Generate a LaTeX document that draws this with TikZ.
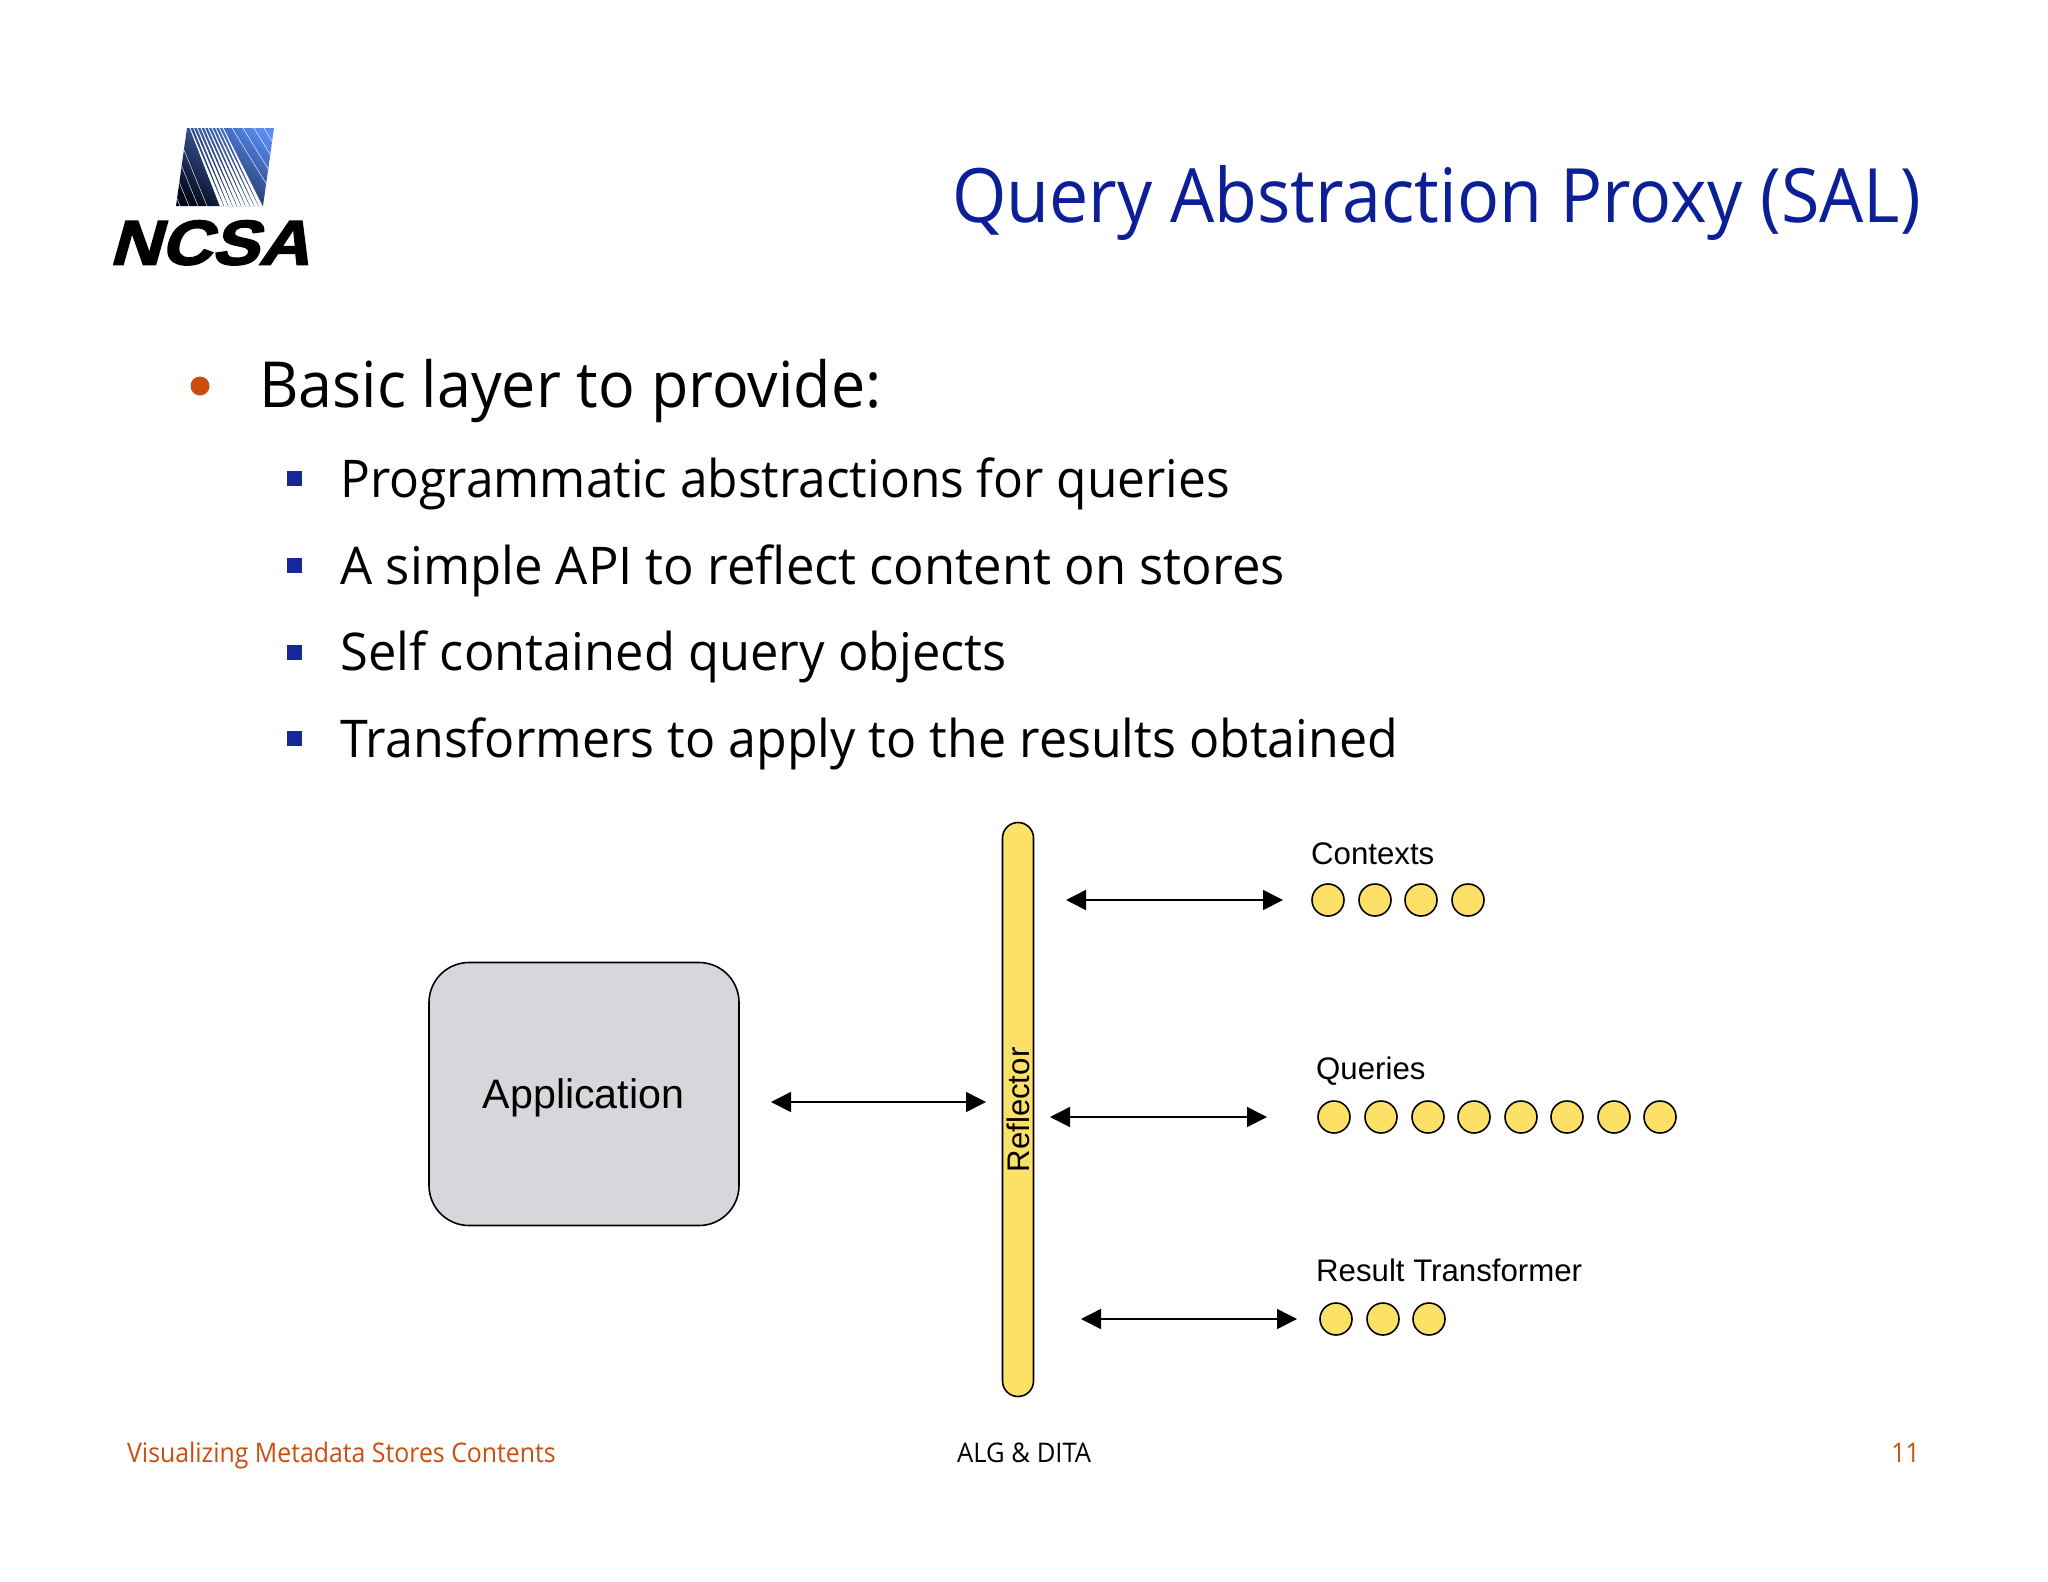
\documentclass[tikz,border=0pt]{standalone}
\usepackage{fontspec}
\setmainfont{Open Sans}
\newfontfamily\titlef[FakeStretch=0.92]{Open Sans}
\newfontfamily\bodyf[FakeStretch=0.96]{Open Sans}
\newfontfamily\arialf{Liberation Sans}
\newfontfamily\logof[FakeSlant=0.25,FakeBold=2.5]{Liberation Sans Bold}
\usetikzlibrary{arrows.meta}
\definecolor{titleblue}{HTML}{0C1F96}
\definecolor{bulletorange}{HTML}{CC4E0E}
\definecolor{squareblue}{HTML}{14289C}
\definecolor{padyellow}{HTML}{FDE068}
\definecolor{appgray}{HTML}{D8D6DA}
\definecolor{logoblue}{HTML}{5A8CF5}
\definecolor{logodark}{HTML}{05081A}
\newcommand{\fs}[1]{\fontsize{#1}{#1}\selectfont}
\tikzset{
  x=1pt,y=-1pt,
  txt/.style={inner sep=0pt,anchor=base west,text=black},
  ttl/.style={txt,anchor=base east,text=titleblue,font=\titlef\fs{75}},
  lvlone/.style={txt,font=\bodyf\fs{63.5}},
  lvltwo/.style={txt,font=\bodyf\fs{52}},
  foot/.style={txt,font=\titlef\fs{27}},
  lab/.style={txt,font=\arialf\fs{31.2}},
  sq/.style={draw=none,fill=squareblue,minimum size=15pt,inner sep=0pt},
  dot/.style={circle,draw=black,line width=1.6pt,fill=padyellow,minimum size=32pt,inner sep=0pt},
  dbl/.style={draw=black,line width=1.6pt,{Triangle[length=20pt,width=20pt]}-{Triangle[length=20pt,width=20pt]}},
}
\begin{document}
\begin{tikzpicture}
\useasboundingbox (0,0) rectangle (2048,1582);
\fill[white] (0,0) rectangle (2048,1582);
% logo
\begin{scope}
\clip (187,128) -- (274,128) -- (263,206) -- (176,206) -- cycle;
\shade[top color=logoblue,bottom color=logodark,shading angle=-40] (170,120) rectangle (280,210);
\foreach \i in {0,...,9}{
  \fill[white] ({190+3.67*\i-0.4},128) -- ({190+3.67*\i+0.4},128)
     -- ({221.7+4.33*\i+1.9},206) -- ({221.7+4.33*\i-1.9},206) -- cycle;
}
\foreach \b in {180,189,198,207}{
  \draw[white,line width=0.4pt] (\b,206) -- ({\b-32},128);
}
\foreach \t in {232,243,254,264}{
  \draw[white,line width=0.4pt] (\t,128) -- ({\t+48},206);
}
\end{scope}
\node[txt,font=\logof\fs{63}] (logo) at (109,264.5) {\resizebox{200pt}{44pt}{NCSA}};
% title
\node[ttl] (title) at (1921,222.5) {\scalebox{1.013}[1]{Query Abstraction Proxy (SAL)}};
% bullets
\fill[bulletorange] (200,386) circle (9.5);
\node[lvlone] (h1) at (259,407) {Basic layer to provide:};
\node[sq] (s1) at (294,478) {};
\node[sq] (s2) at (294,565) {};
\node[sq] (s3) at (294,652) {};
\node[sq] (s4) at (294,738) {};
\node[lvltwo] (t1) at (340.5,497) {\scalebox{0.994}[1]{Programmatic abstractions for queries}};
\node[lvltwo] (t2) at (340.5,584) {\scalebox{1.017}[1]{A simple API to reflect content on stores}};
\node[lvltwo] (t3) at (340.5,670.5) {\scalebox{1.014}[1]{Self contained query objects}};
\node[lvltwo] (t4) at (340.5,757) {\scalebox{1.004}[1]{Transformers to apply to the results obtained}};
% diagram
\node[draw=black,line width=1.6pt,fill=appgray,rounded corners=40pt,minimum width=310pt,minimum height=263pt,inner sep=0pt] (app) at (584,1094) {};
\node[font=\arialf\fs{41.2},inner sep=0pt,anchor=base] (apptxt) at (583.5,1108) {Application};
\node[draw=black,line width=1.6pt,fill=padyellow,rounded corners=15.5pt,minimum width=31pt,minimum height=574pt,inner sep=0pt] (refl) at (1018,1109.5) {};
\node[font=\arialf\fs{31.2},rotate=90,inner sep=0pt,anchor=base] (rtxt) at (1029,1110) {Reflector};
\coordinate (a1) at (771,1102); \coordinate (a2) at (986,1102);
\coordinate (b1) at (1066,900); \coordinate (b2) at (1283,900);
\coordinate (c1) at (1050,1117); \coordinate (c2) at (1267,1117);
\coordinate (d1) at (1081,1319); \coordinate (d2) at (1297,1319);
\draw[dbl] (a1) -- (a2);
\draw[dbl] (b1) -- (b2);
\draw[dbl] (c1) -- (c2);
\draw[dbl] (d1) -- (d2);
\node[lab] (l1) at (1311,864) {Contexts};
\node[lab] (l2) at (1316,1079) {Queries};
\node[lab] (l3) at (1316,1281) {Result Transformer};
\foreach \n/\x in {1/1328,2/1375,3/1421,4/1468} \node[dot] (ca\n) at (\x,900) {};
\foreach \n/\x in {1/1334,2/1381,3/1428,4/1474,5/1521,6/1567,7/1614,8/1660} \node[dot] (cb\n) at (\x,1117) {};
\foreach \n/\x in {1/1336,2/1383,3/1429} \node[dot] (cc\n) at (\x,1319) {};
% footer
\node[foot,text=bulletorange] (f1) at (127,1462) {Visualizing Metadata Stores Contents};
\node[foot] (f2) at (957,1462) {\scalebox{1.03}[1]{ALG \& DITA}};
\node[foot,anchor=base east,text=bulletorange] (f3) at (1920,1462) {11};
\end{tikzpicture}
\end{document}
